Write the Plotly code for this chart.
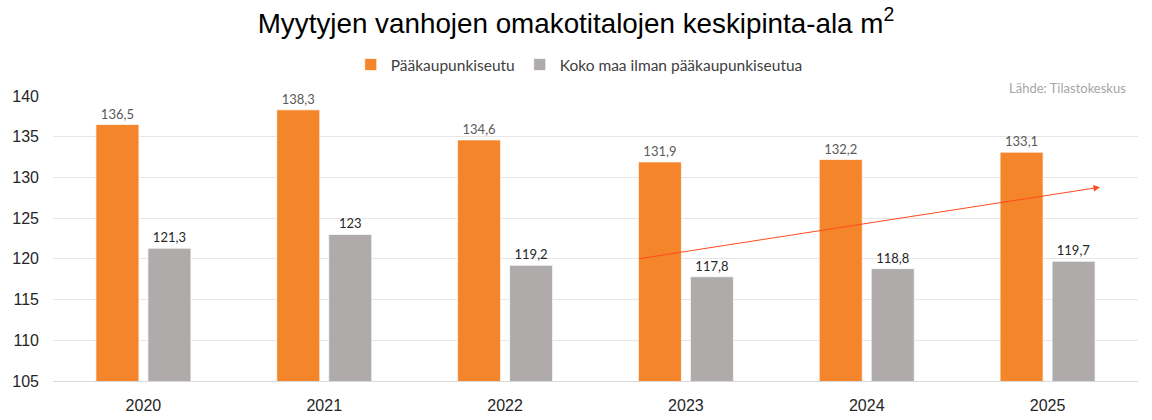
import plotly.graph_objects as go

years = ["2020", "2021", "2022", "2023", "2024", "2025"]
paakaupunkiseutu = [136.5, 138.3, 134.6, 131.9, 132.2, 133.1]
muu_maa = [121.3, 123.0, 119.2, 117.8, 118.8, 119.7]
y_ticks = [105, 110, 115, 120, 125, 130, 135, 140]

def fmt(v):
    s = f"{v:.1f}"
    if s.endswith(".0"):
        s = s[:-2]
    return s.replace(".", ",")

label_font = "Lato, Open Sans, sans-serif"
arial = "Liberation Sans, Arial, sans-serif"

fig = go.Figure()
fig.add_trace(go.Bar(
    name="Pääkaupunkiseutu", x=years, y=paakaupunkiseutu,
    marker=dict(color="#F5852A", line=dict(color="rgba(255,255,255,0.7)", width=1)),
    text=[fmt(v) for v in paakaupunkiseutu], textposition="outside",
    textfont=dict(family=label_font, size=13, color="#595959"),
    cliponaxis=False,
))
fig.add_trace(go.Bar(
    name="Koko maa ilman pääkaupunkiseutua", x=years, y=muu_maa,
    marker=dict(color="#AEABAA", line=dict(color="rgba(255,255,255,0.7)", width=1)),
    text=[fmt(v) for v in muu_maa], textposition="outside",
    textfont=dict(family=label_font, size=13, color="#262626"),
    cliponaxis=False,
))

fig.update_layout(
    width=1152, height=420,
    paper_bgcolor="white", plot_bgcolor="white",
    margin=dict(l=53, r=14, t=96, b=39),
    barmode="group", bargap=0.425, bargroupgap=0.173,
    title=dict(text="Myytyjen vanhojen omakotitalojen keskipinta-ala m<sup>2</sup>",
               x=0.5, xanchor="center", y=0.945, yanchor="middle",
               font=dict(family=arial, size=27.8, color="#000000")),
    legend=dict(orientation="h", x=0.485, xanchor="center", y=1.109, yanchor="middle",
                font=dict(family=label_font, size=15.5, color="#404040"),
                traceorder="normal", itemwidth=30),
    showlegend=True,
    xaxis=dict(type="category", showgrid=False, showline=True, linecolor="#D9D9D9",
               linewidth=1, ticks="", ticklabelstandoff=10, automargin=False,
               tickfont=dict(family=arial, size=16, color="#262626")),
    yaxis=dict(range=[105, 140], tickvals=y_ticks, showgrid=True, gridcolor="#E6E6E6",
               gridwidth=1, zeroline=False, showline=False, ticks="", ticklabelstandoff=13,
               automargin=False,
               tickfont=dict(family=arial, size=16, color="#262626")),
)

fig.add_annotation(
    text="Lähde: Tilastokeskus", xref="paper", yref="paper", x=0.991, y=1.028,
    xanchor="right", yanchor="middle", showarrow=False,
    font=dict(family=label_font, size=13, color="#A6A6A6"),
)

fig.add_annotation(
    x=5.29, y=128.8, ax=2.735, ay=120.0, xref="x", yref="y", axref="x", ayref="y",
    text="", showarrow=True, arrowhead=2, arrowsize=1.3, arrowwidth=1, arrowcolor="#FF4A1F",
)

fig.write_html("out.html")
